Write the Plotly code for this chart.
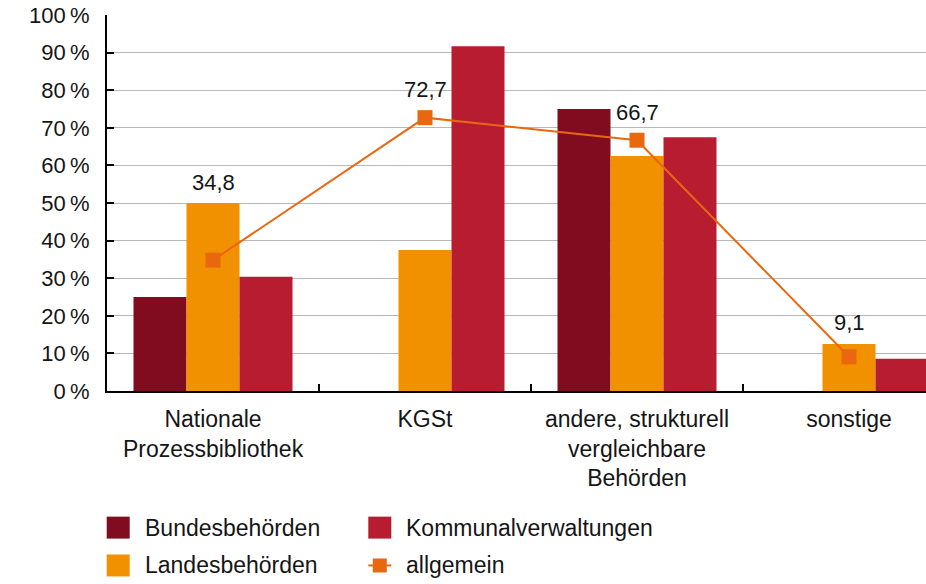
import plotly.graph_objects as go

categories = ["Nationale<br>Prozessbibliothek", "KGSt",
              "andere, strukturell<br>vergleichbare<br>Behörden", "sonstige"]
bundes = [25.0, 0.0, 75.0, 0.0]
landes = [50.0, 37.5, 62.5, 12.5]
kommunal = [30.4, 91.7, 67.5, 8.6]
allgemein = [34.8, 72.7, 66.7, 9.1]
allgemein_labels = ["34,8", "72,7", "66,7", "9,1"]
label_shift = [78, 28, 28, 34]
ytick_vals = [0, 10, 20, 30, 40, 50, 60, 70, 80, 90, 100]
ytick_text = [f"{v}\u2009%" for v in ytick_vals]

names = ["Bundesbehörden", "Landesbehörden", "Kommunalverwaltungen", "allgemein"]
colors = ["#810C20", "#F29100", "#B71C31", "#E9670F"]

W, H = 926, 584
ML, MR, MT, MB = 107, 0, 15, 192.5
PW, PH = W - ML - MR, H - MT - MB
FONT = "Liberation Sans, Arial, sans-serif"

def px_x(x):
    return (x - ML) / PW

def px_y(y):
    return (H - MB - y) / PH

fig = go.Figure()
for vals, name, col in zip([bundes, landes, kommunal], names[:3], colors[:3]):
    fig.add_trace(go.Bar(x=categories, y=vals, name=name, marker_color=col,
                         marker_line_width=0, showlegend=False))
fig.add_trace(go.Scatter(x=categories, y=allgemein, name=names[3], mode="lines+markers",
                         line=dict(color=colors[3], width=2),
                         marker=dict(symbol="square", size=15, color=colors[3]),
                         showlegend=False))

for c, v, t, s in zip(categories, allgemein, allgemein_labels, label_shift):
    fig.add_annotation(x=c, y=v, text=t, showarrow=False, yshift=s,
                       font=dict(size=22, color="#151515", family=FONT),
                       xanchor="center", yanchor="middle")

# manual legend (swatches in pixel-derived paper coords)
leg = [
    (names[0], colors[0], 106.7, 528.3, "box"),
    (names[2], colors[2], 368.3, 528.3, "box"),
    (names[1], colors[1], 106.7, 566.2, "box"),
    (names[3], colors[3], 368.3, 566.2, "line"),
]
for name, col, x0, yc, kind in leg:
    if kind == "box":
        fig.add_shape(type="rect", xref="paper", yref="paper",
                      x0=px_x(x0), x1=px_x(x0 + 23), y0=px_y(yc - 11), y1=px_y(yc + 11),
                      fillcolor=col, line_width=0)
    else:
        fig.add_shape(type="line", xref="paper", yref="paper",
                      x0=px_x(x0), x1=px_x(x0 + 23), y0=px_y(yc), y1=px_y(yc),
                      line=dict(color=col, width=2))
        fig.add_shape(type="rect", xref="paper", yref="paper",
                      x0=px_x(x0 + 4.5), x1=px_x(x0 + 18.5), y0=px_y(yc - 7), y1=px_y(yc + 7),
                      fillcolor=col, line_width=0)
    fig.add_annotation(xref="paper", yref="paper", x=px_x(x0 + 36), y=px_y(yc),
                       text=name, showarrow=False, xanchor="left", yanchor="middle",
                       font=dict(size=23, color="#151515", family=FONT))

fig.update_layout(
    width=W, height=H,
    margin=dict(l=ML, r=MR, t=MT, b=MB, pad=0),
    plot_bgcolor="white", paper_bgcolor="white",
    barmode="group", bargap=0.25, bargroupgap=0,
    font=dict(family=FONT, color="#151515"),
    showlegend=False,
)
fig.update_xaxes(
    type="category", range=[-0.5, -0.5 + PW / 212.0],
    showline=True, linecolor="black", linewidth=2,
    ticks="inside", tickson="boundaries", ticklen=7, tickwidth=1.5, tickcolor="black",
    tickfont=dict(size=23, color="#151515", family=FONT),
    showgrid=False, zeroline=False, ticklabelstandoff=6,
)
fig.update_yaxes(
    range=[0, 100], tickvals=ytick_vals, ticktext=ytick_text,
    showline=True, linecolor="black", linewidth=2,
    ticks="inside", ticklen=7, tickwidth=1.5, tickcolor="black",
    tickfont=dict(size=22, color="#151515", family=FONT),
    showgrid=True, gridcolor="#B8B8B8", gridwidth=1, zeroline=False,
    ticklabelstandoff=11,
)

fig.write_html("out.html", config={"displayModeBar": False},
               post_script="document.body.style.margin='0';document.body.style.overflow='hidden';")
